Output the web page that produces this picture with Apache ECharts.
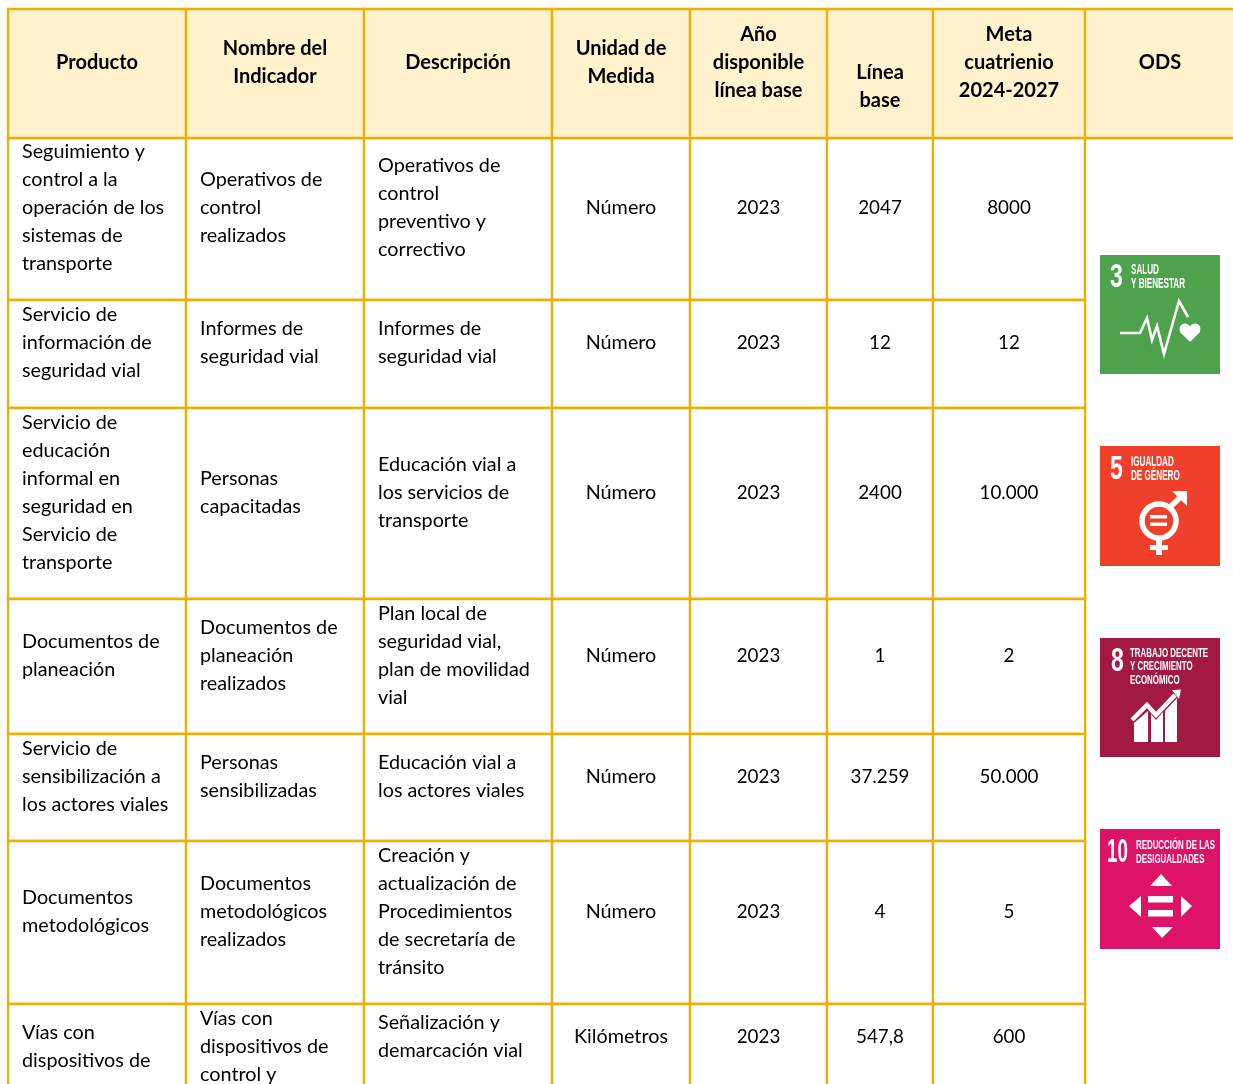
<!DOCTYPE html>
<html>
<head>
<meta charset="utf-8">
<title>Indicadores</title>
<script src="https://cdn.jsdelivr.net/npm/echarts@6/dist/echarts.min.js"></script>
<style>
html,body{margin:0;padding:0;background:#fff;overflow:hidden}
#main{width:1233px;height:1084px}
</style>
</head>
<body>
<div id="main"></div>
<script>
// contenido de la tabla
const encabezados = ['Producto', 'Nombre del\nIndicador', 'Descripción', 'Unidad de\nMedida', 'Año\ndisponible\nlínea base', 'Línea\nbase', 'Meta\ncuatrienio\n2024-2027', 'ODS'];
const productos = [
	'Seguimiento y\ncontrol a la\noperación de los\nsistemas de\ntransporte',
	'Servicio de\ninformación de\nseguridad vial',
	'Servicio de\neducación\ninformal en\nseguridad en\nServicio de\ntransporte',
	'Documentos de\nplaneación',
	'Servicio de\nsensibilización a\nlos actores viales',
	'Documentos\nmetodológicos',
	'Vías con\ndispositivos de'
];
const indicadores = [
	'Operativos de\ncontrol\nrealizados',
	'Informes de\nseguridad vial',
	'Personas\ncapacitadas',
	'Documentos de\nplaneación\nrealizados',
	'Personas\nsensibilizadas',
	'Documentos\nmetodológicos\nrealizados',
	'Vías con\ndispositivos de\ncontrol y'
];
const descripciones = [
	'Operativos de\ncontrol\npreventivo y\ncorrectivo',
	'Informes de\nseguridad vial',
	'Educación vial a\nlos servicios de\ntransporte',
	'Plan local de\nseguridad vial,\nplan de movilidad\nvial',
	'Educación vial a\nlos actores viales',
	'Creación y\nactualización de\nProcedimientos\nde secretaría de\ntránsito',
	'Señalización y\ndemarcación vial'
];
const unidades = ['Número', 'Número', 'Número', 'Número', 'Número', 'Número', 'Kilómetros'];
const anios = ['2023', '2023', '2023', '2023', '2023', '2023', '2023'];
const lineasBase = ['2047', '12', '2400', '1', '37.259', '4', '547,8'];
const metas = ['8000', '12', '10.000', '2', '50.000', '5', '600'];

const odsNumeros = ['3', '5', '8', '10'];
const odsTitulos = ['SALUD\nY BIENESTAR', 'IGUALDAD\nDE GÉNERO', 'TRABAJO DECENTE\nY CRECIMIENTO\nECONÓMICO', 'REDUCCIÓN DE LAS\nDESIGUALDADES'];

// tamaños de columnas y filas
const anchoColumnas = [178, 178, 188, 138, 137, 106, 152, 150];
const altoFilas = [129, 162, 108, 191, 135, 107, 163, 86];

const colorBorde = '#EBB000';
const fuente = 'Lato';
const altoLinea = 28;
const columnas = [productos, indicadores, descripciones, unidades, anios, lineasBase, metas];

// el texto no queda en el centro de la celda: se baja con padding desde arriba
function etiqueta(texto, fila, desvio, izquierda) {
	let lineas = texto.split('\n').length;
	let arriba = altoFilas[fila] / 2 + desvio - lineas * altoLinea / 2;
	if (izquierda) {
		return { position: 'insideTopLeft', distance: 0, align: 'left', verticalAlign: 'top', padding: [arriba, 0, 0, 14] };
	}
	return { position: 'insideTop', distance: 0, align: 'center', verticalAlign: 'top', padding: [arriba, 0, 0, 0] };
}

let celdas = [];
encabezados.forEach(function (texto, c) {
	// "Línea base" va mas abajo que los demas
	let label = etiqueta(texto, 0, c === 5 ? 13 : -11, false);
	label.fontWeight = 'bold';
	label.fontSize = 20;
	celdas.push({ coord: [c, 0], value: texto, itemStyle: { color: '#FFF2CC' }, label: label });
});
columnas.forEach(function (col, c) {
	col.forEach(function (texto, f) {
		// la ultima fila esta cortada en la pagina
		let desvio = f === 6 ? (c < 2 ? 0 : -10) : -11;
		let label = etiqueta(texto, f + 1, desvio, c < 3);
		// los digitos de Lato son mas anchos
		if (c > 3) label.fontSize = 18.8;
		celdas.push({ coord: [c, f + 1], value: texto, label: label });
	});
});
celdas.push({ coord: [7, [1, 7]], mergeCells: true, value: '' });

// iconos ODS
function textoOds(x, y, texto, size, escala, alto) {
	return {
		type: 'text', x: x, y: y, scaleX: escala, z: 20,
		style: { text: texto, fill: '#fff', font: 'bold ' + size + 'px "Liberation Sans"', lineHeight: alto, textVerticalAlign: 'top' }
	};
}
function linea(puntos, grosor) {
	return { type: 'polyline', z: 20, shape: { points: puntos }, style: { stroke: '#fff', lineWidth: grosor, fill: null, lineJoin: 'miter' } };
}
function figura(puntos) {
	return { type: 'polygon', z: 20, shape: { points: puntos }, style: { fill: '#fff' } };
}
function caja(x, y, w, h) {
	return { type: 'rect', z: 20, shape: { x: x, y: y, width: w, height: h }, style: { fill: '#fff' } };
}
function punto(cx, cy, r) {
	return { type: 'circle', z: 20, shape: { cx: cx, cy: cy, r: r }, style: { fill: '#fff' } };
}
function fondo(y, alto, color) {
	return { type: 'rect', z: 19, shape: { x: 1100, y: y, width: 120, height: alto }, style: { fill: color } };
}

const iconos = [
	fondo(255, 119, '#4EA24B'),
	textoOds(1110, 261, odsNumeros[0], 33, 0.7, 33),
	textoOds(1131, 263.5, odsTitulos[0], 14, 0.58, 14),
	linea([[1120, 333], [1140, 333], [1147, 318], [1152, 340], [1157, 326], [1164, 354], [1179, 301], [1188, 317]], 2.6),
	punto(1185, 329, 5.5),
	punto(1195, 329, 5.5),
	figura([[1180, 332], [1200, 332], [1190, 342]]),

	fondo(446, 120, '#EF402B'),
	textoOds(1110, 453, odsNumeros[1], 33, 0.7, 33),
	textoOds(1131, 455, odsTitulos[1], 14, 0.58, 14),
	{ type: 'circle', z: 20, shape: { cx: 1159, cy: 521, r: 17 }, style: { fill: null, stroke: '#fff', lineWidth: 5.5 } },
	linea([[1170, 507], [1184, 494]], 5.5),
	figura([[1172, 491], [1187, 491], [1187, 506]]),
	caja(1150, 515, 17, 3.5),
	caja(1150, 522.5, 17, 3.5),
	caja(1156, 540, 6, 15),
	caja(1150, 545, 18, 5),

	fondo(638, 119, '#A21942'),
	textoOds(1111, 645, odsNumeros[2], 33, 0.7, 33),
	textoOds(1130, 646.5, odsTitulos[2], 13, 0.607, 13.5),
	figura([[1134, 723], [1148, 711], [1148, 742], [1134, 742]]),
	figura([[1151, 714], [1156, 720], [1163, 712], [1163, 742], [1151, 742]]),
	figura([[1165, 711], [1177, 698], [1177, 742], [1165, 742]]),
	linea([[1132, 720], [1147, 705], [1156, 715], [1175, 695]], 4.5),
	figura([[1172, 690], [1181, 689.5], [1179, 699]]),

	fondo(829, 120, '#DD1367'),
	textoOds(1107, 836.5, odsNumeros[3], 33, 0.57, 33),
	textoOds(1136, 838, odsTitulos[3], 13, 0.607, 14),
	figura([[1150, 886], [1172, 886], [1161, 874]]),
	figura([[1152, 927], [1173, 927], [1162, 938]]),
	figura([[1141, 896], [1141, 917], [1129, 906]]),
	figura([[1181, 896], [1181, 917], [1192, 906]]),
	caja(1148, 896, 25, 6.5),
	caja(1148, 910, 25, 6.5)
];

let myChart = echarts.init(document.getElementById('main'));
myChart.setOption({
	backgroundColor: '#fff',
	animation: false,
	matrix: {
		left: 8,
		top: 9,
		width: 1227,
		height: 1081,
		x: {
			show: false,
			data: anchoColumnas.map(function (w, i) { return { value: String(i), size: w }; })
		},
		y: {
			show: false,
			data: altoFilas.map(function (h, i) { return { value: String(i), size: h }; })
		},
		body: {
			itemStyle: { color: '#fff', borderColor: colorBorde, borderWidth: 2.3 },
			label: { color: '#000', fontFamily: fuente, fontSize: 19.8, lineHeight: altoLinea, overflow: 'none' },
			data: celdas
		},
		backgroundStyle: { borderWidth: 0 }
	},
	graphic: { elements: iconos }
});
</script>
</body>
</html>
